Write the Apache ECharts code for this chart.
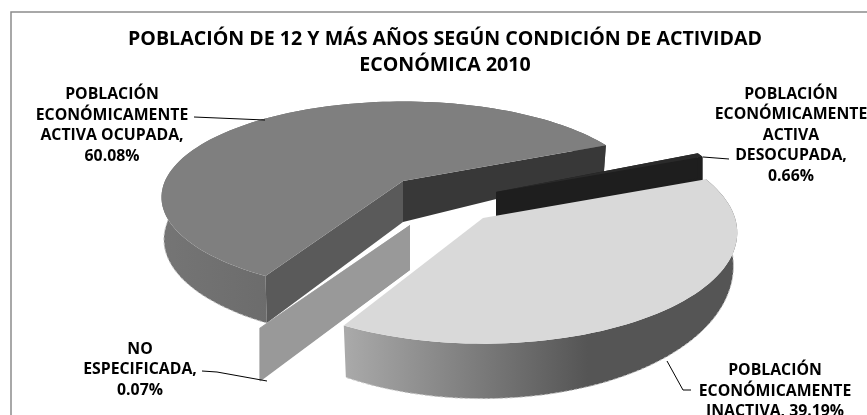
<!DOCTYPE html>
<html>
<head>
<meta charset="utf-8">
<style>html,body{margin:0;padding:0;background:#fff}#c{width:867px;height:415px}</style>
<script src="https://cdn.jsdelivr.net/npm/echarts@6/dist/echarts.min.js"></script>
</head>
<body>
<div id="c"></div>
<script>
const titleLines = ['POBLACIÓN DE 12 Y MÁS AÑOS SEGÚN CONDICIÓN DE ACTIVIDAD', 'ECONÓMICA 2010'];
const categories = ['POBLACIÓN\nECONÓMICAMENTE\nACTIVA OCUPADA,', 'POBLACIÓN\nECONÓMICAMENTE\nACTIVA\nDESOCUPADA,', 'POBLACIÓN\nECONÓMICAMENTE\nINACTIVA,', 'NO\nESPECIFICADA,'];
const values = [60.08, 0.66, 39.19, 0.07];

const START_ANGLE = 119.5;
const total = values.reduce((a, b) => a + b, 0);

// Oblique-perspective look of each exploded slice
const looks = [
  { ax: 403, ay: 181, rx: 238, ry: 93, p: 0.17, h0: 41, hb: 34, hf: 7, shrink: 0.99, radial: true,
    top: '#7f7f7f', startWall: '#5a5a5a', endWall: '#383838', outer: ['#757575', '#5e5e5e'],
    lx: 112, ly: 125.5, sep: '\n', leader: [[194, 117], [265, 120]] },
  { ax: 496, ay: 192, rx: 234, ry: 100, p: 0.14, h0: 25, hb: 0, hf: 0, shrink: 1, radial: true,
    top: '#2a2a2a', startWall: '#1e1e1e', endWall: '#1e1e1e', outer: ['#1e1e1e', '#1e1e1e'],
    lx: 791, ly: 135, sep: '\n', leader: [[703, 157], [729, 159]] },
  { ax: 483, ay: 218, rx: 252, ry: 109, p: 0.1325, h0: 30, hb: 30, hf: 25, shrink: 0.985, radial: false,
    top: '#d9d9d9', startWall: '#555555', endWall: '#8f8f8f', outer: ['#aaaaaa', '#555555'],
    lx: 775, ly: 391, sep: ' ', leader: [[667, 361], [683, 390], [691, 390]] },
  { ax: 410, ay: 225, rx: 266, ry: 103, p: 0.148, h0: 45, hb: 0, hf: 9, shrink: 1, radial: true,
    top: '#a0a0a0', startWall: '#999999', endWall: '#999999', outer: ['#999999', '#999999'],
    lx: 140, ly: 369.5, sep: '\n', leader: [[202, 371], [217, 372], [267, 381]] }
];

function topPoint(k, deg) {
  const t = deg * Math.PI / 180, u = Math.cos(t), v = Math.sin(t), s = 1 / (1 - k.p * v);
  return [k.ax + k.rx * u * s, k.ay + k.ry * v * s];
}
function wallHeight(k, v) { return k.h0 + (v < 0 ? k.hb * v : k.hf * v); }
function botPoint(k, deg) {
  const t = deg * Math.PI / 180, u = Math.cos(t), v = Math.sin(t), s = 1 / (1 - k.p * v);
  return [k.ax + k.rx * u * s * k.shrink, k.ay + k.ry * v * s + wallHeight(k, v)];
}
function arc(fn, k, a, b) {
  const n = Math.max(2, Math.ceil(Math.abs(b - a) / 2)), pts = [];
  for (let i = 0; i <= n; i++) pts.push(fn(k, a + (b - a) * i / n));
  return pts;
}

function renderSlice(params, api) {
  const i = params.dataIndex, k = looks[i];
  let before = 0;
  for (let j = 0; j < i; j++) before += values[j];
  const a = START_ANGLE + before / total * 360;
  const b = a + api.value(0) / total * 360;
  const apexTop = [k.ax, k.ay], apexBot = [k.ax, k.ay + k.h0];
  const topArc = arc(topPoint, k, a, b), botArc = arc(botPoint, k, a, b);
  const poly = (points, fill) => ({ type: 'polygon', shape: { points }, style: { fill, stroke: null } });
  const children = [];
  children.push(poly(topArc.concat(botArc.slice().reverse()), new echarts.graphic.LinearGradient(0, 0, 1, 0, [
    { offset: 0, color: k.outer[0] }, { offset: 0.62, color: k.outer[1] }, { offset: 1, color: k.outer[1] }
  ])));
  if (i !== 1) {
    children.push({ type: 'polyline', shape: { points: botArc },
      style: { fill: null, stroke: '#c4c4c4', lineWidth: 1, lineDash: [3, 2] } });
  }
  if (k.radial) {
    children.push(poly([apexTop, topArc[topArc.length - 1], botArc[botArc.length - 1], apexBot], k.endWall));
    children.push(poly([apexTop, topArc[0], botArc[0], apexBot], k.startWall));
  }
  children.push(poly([apexTop].concat(topArc), k.top));
  children.push({ type: 'polyline', shape: { points: k.leader },
    style: { fill: null, stroke: '#000', lineWidth: 1 }, z2: 5 });
  children.push({ type: 'text', z2: 6, style: {
    x: k.lx, y: k.ly,
    text: categories[i] + k.sep + api.value(0).toFixed(2) + '%',
    font: 'bold 15.8px "Open Sans"', lineHeight: 20.5, fill: '#000',
    align: 'center', verticalAlign: 'middle'
  } });
  return { type: 'group', children };
}

const chart = echarts.init(document.getElementById('c'), null, { renderer: 'canvas' });
chart.setOption({
  animation: false,
  backgroundColor: '#fff',
  title: {
    text: titleLines.join('\n'), left: 440, top: 21, textAlign: 'center',
    textStyle: { fontFamily: 'Open Sans', fontWeight: 'bold', fontSize: 19.6, lineHeight: 26, color: '#000' }
  },
  graphic: [{
    type: 'rect', z: -1, shape: { x: 11, y: 12, width: 900, height: 500 },
    style: { fill: '#fff', stroke: '#8c8c8c', lineWidth: 1.5 }
  }],
  series: [{
    type: 'custom', coordinateSystem: 'none', renderItem: renderSlice,
    clip: false, data: values.map(v => [v])
  }]
});
</script>
</body>
</html>
